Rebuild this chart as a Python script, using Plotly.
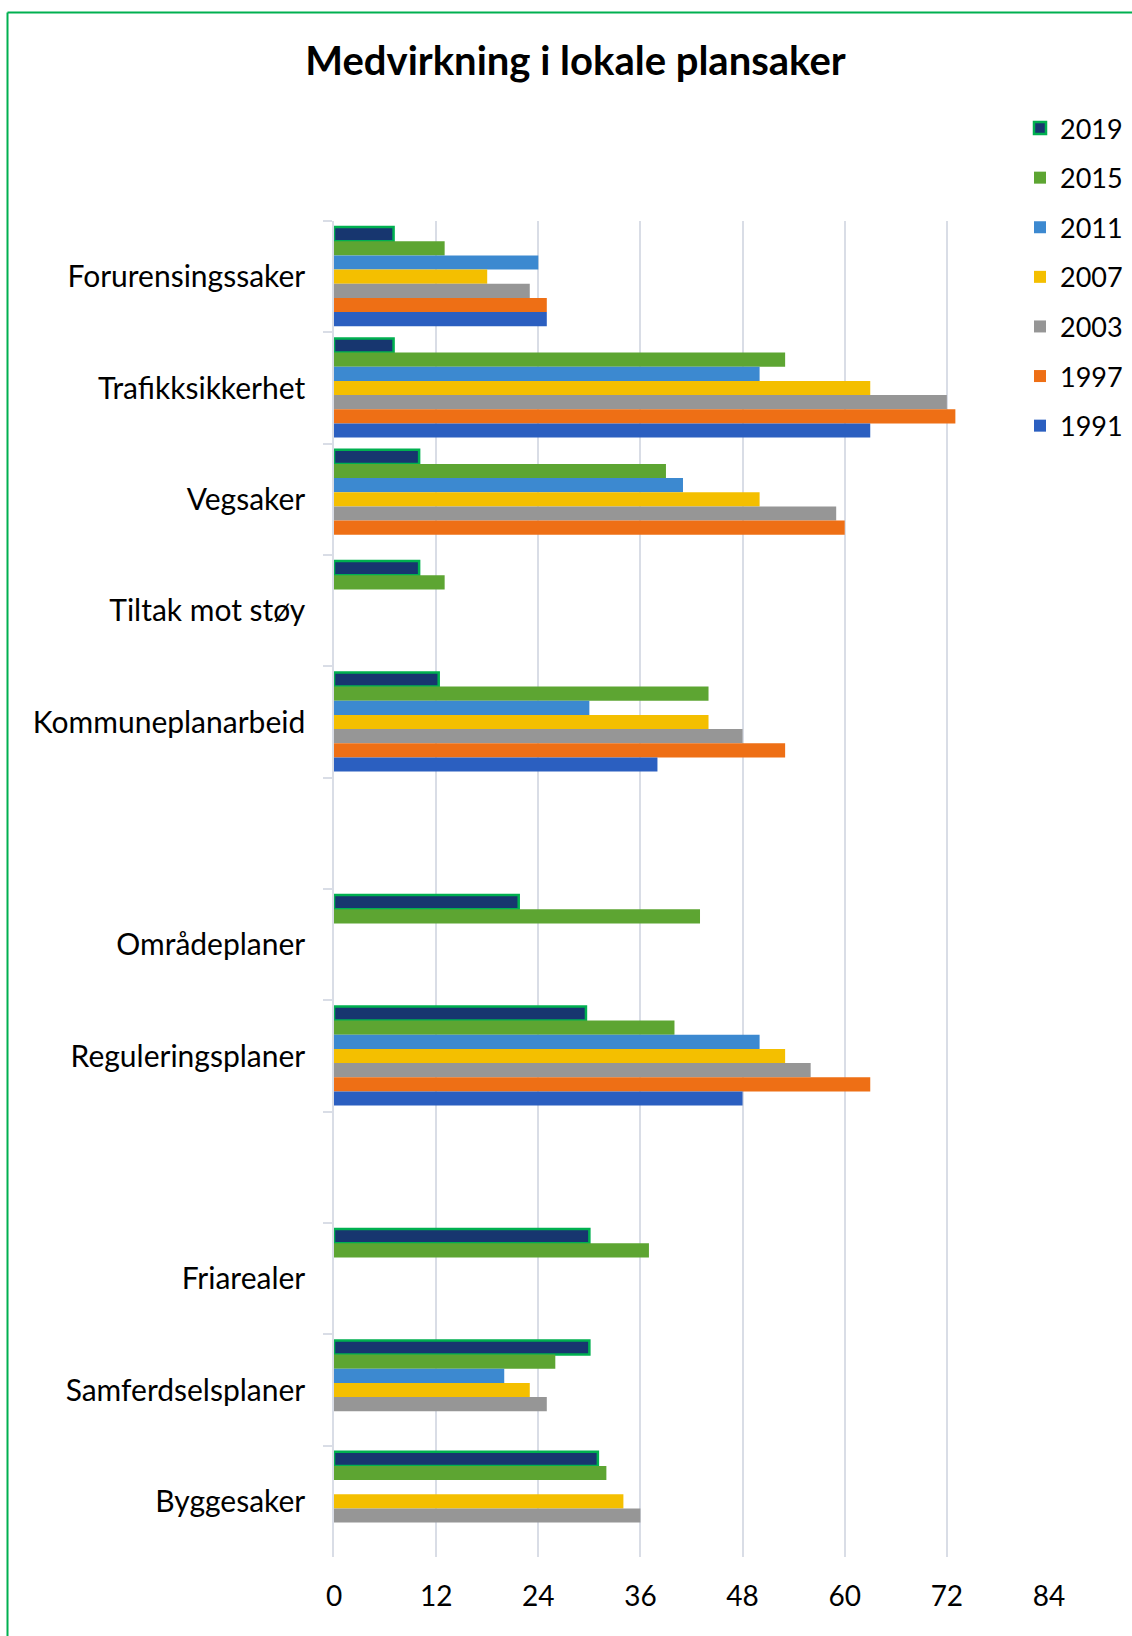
import plotly.graph_objects as go

categories = ["Forurensingssaker", "Trafikksikkerhet", "Vegsaker", "Tiltak mot støy",
              "Kommuneplanarbeid", " ", "Områdeplaner", "Reguleringsplaner", "  ",
              "Friarealer", "Samferdselsplaner", "Byggesaker"]

years = ["2019", "2015", "2011", "2007", "2003", "1997", "1991"]

v2019 = [7, 7, 10, 10, 12.3, None, 21.7, 29.6, None, 30, 30, 31]
v2015 = [13, 53, 39, 13, 44, None, 43, 40, None, 37, 26, 32]
v2011 = [24, 50, 41, None, 30, None, None, 50, None, None, 20, None]
v2007 = [18, 63, 50, None, 44, None, None, 53, None, None, 23, 34]
v2003 = [23, 72, 59, None, 48, None, None, 56, None, None, 25, 36]
v1997 = [25, 73, 60, None, 53, None, None, 63, None, None, None, None]
v1991 = [25, 63, None, None, 38, None, None, 48, None, None, None, None]

series = [v2019, v2015, v2011, v2007, v2003, v1997, v1991]
colors = ["#17366F", "#5DA532", "#3C89D0", "#F4BF00", "#969696", "#EE6F15", "#2B5FC0"]

x_ticks = [0, 12, 24, 36, 48, 60, 72, 84]

FONT = "Lato"
GRID = "#D9DDE6"
BORDER = "#00B050"

# plot-area pixel bounds
L, R, T, B = 334, 1049, 221, 1557
FW, FH = 1132, 1636
W, H = R - L, B - T


def px_x(x):
    return (x - L) / W


def px_y(y):
    return (B - y) / H


fig = go.Figure()
for i, (yr, vals, col) in enumerate(zip(years, series, colors)):
    line = dict(width=2.5, color=BORDER) if yr == "2019" else dict(width=0)
    fig.add_trace(go.Bar(
        y=categories, x=vals, name=yr, orientation="h",
        marker=dict(color=col, line=line),
        legendgroup=yr,
    ))

fig.update_layout(
    width=FW, height=FH, autosize=False,
    margin=dict(l=L, r=FW - R, t=T, b=FH - B, pad=0, autoexpand=False),
    paper_bgcolor="white", plot_bgcolor="white",
    barmode="group", bargap=0.11, bargroupgap=0,
    font=dict(family=FONT, color="black"),
    title=dict(text="<b>Medvirkning i lokale plansaker</b>",
               font=dict(family=FONT, size=40, color="black"),
               x=575.5 / FW, xref="container", xanchor="center",
               y=1 - 60.5 / FH, yref="container", yanchor="middle"),
    legend=dict(x=px_x(1020), y=px_y(104), xanchor="left", yanchor="top",
                font=dict(family=FONT, size=27, color="black"),
                bgcolor="rgba(0,0,0,0)", traceorder="grouped",
                tracegroupgap=11.5),
    xaxis=dict(range=[0, 84], tickvals=x_ticks, ticktext=[str(t) for t in x_ticks],
               showgrid=True, gridcolor=GRID, gridwidth=1.5,
               zeroline=False, showline=False, ticks="",
               tickfont=dict(family=FONT, size=28, color="black"),
               ticklabelstandoff=20, fixedrange=True),
    yaxis=dict(type="category", categoryorder="array", categoryarray=categories,
               autorange="reversed", showgrid=False, zeroline=False,
               showline=True, linecolor=GRID, linewidth=1.5,
               ticks="outside", ticklen=9, tickcolor=GRID, tickwidth=1.5,
               tickson="boundaries",
               tickfont=dict(family=FONT, size=30, color="black"),
               ticklabelstandoff=21),
    shapes=[
        dict(type="line", xref="paper", yref="paper",
             x0=px_x(7.5), x1=px_x(7.5), y0=px_y(1700), y1=px_y(12.5),
             line=dict(color=BORDER, width=2), layer="above"),
        dict(type="line", xref="paper", yref="paper",
             x0=px_x(7.5), x1=px_x(1200), y0=px_y(12.5), y1=px_y(12.5),
             line=dict(color=BORDER, width=2), layer="above"),
    ],
)

fig.write_html("out.html", config={"displayModeBar": False},
               post_script="document.body.style.margin='0px';document.body.style.overflow='hidden';")
